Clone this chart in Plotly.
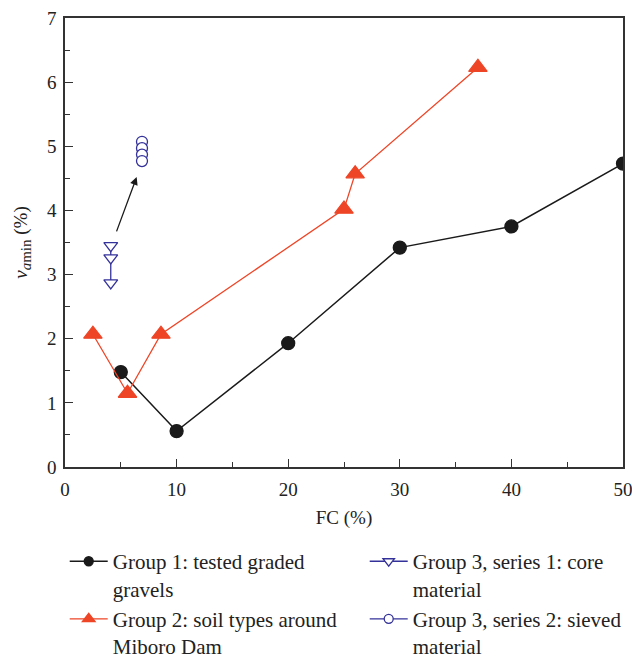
import plotly.graph_objects as go

# Data
g1_x = [5, 10, 20, 30, 40, 50]
g1_y = [1.48, 0.56, 1.93, 3.42, 3.75, 4.73]
g2_x = [2.5, 5.6, 8.6, 25, 26, 37]
g2_y = [2.07, 1.15, 2.07, 4.02, 4.57, 6.23]
g3s1_x = [4.1, 4.1, 4.1]
g3s1_y = [3.45, 3.26, 2.87]
g3s2_x = [6.9, 6.9, 6.9, 6.9]
g3s2_y = [5.07, 4.97, 4.87, 4.77]
arrow_start = (4.57, 3.65)
arrow_end = (6.42, 4.52)

names = [
    "Group 1: tested graded<br>gravels",
    "Group 2: soil types around<br>Miboro Dam",
    "Group 3, series 1: core<br>material",
    "Group 3, series 2: sieved<br>material",
]

FONT = "Liberation Serif"
RED = "#EE4526"
BLUE = "#34329A"
BLACK = "#1a1a1a"

styles = [
    dict(color=BLACK, fill=BLACK, lw=1.5, sym="circle", size=13, lsize=9, rank=1),
    dict(color=RED, fill=RED, lw=1.3, sym="triangle-up", size=16, lsize=11, rank=3),
    dict(color=BLUE, fill="white", lw=1.3, sym="triangle-down", size=12, lsize=10, rank=2),
    dict(color=BLUE, fill="white", lw=1.3, sym="circle", size=11, lsize=9, rank=4),
]
series = [(g1_x, g1_y), (g2_x, g2_y), (g3s1_x, g3s1_y), (g3s2_x, g3s2_y)]

fig = go.Figure()
for (xs, ys), st, nm in zip(series, styles, names):
    fig.add_trace(go.Scatter(x=xs, y=ys, mode="lines+markers", name=nm,
                             showlegend=False,
                             line=dict(color=st["color"], width=st["lw"]),
                             marker=dict(symbol=st["sym"], size=st["size"], color=st["fill"],
                                         line=dict(width=1.3, color=st["color"]))))
for st, nm in zip(styles, names):
    # legend-only entries with smaller symbols (as in the reference legend)
    fig.add_trace(go.Scatter(x=[None], y=[None], mode="lines+markers", name=nm,
                             legendrank=st["rank"],
                             line=dict(color=st["color"], width=1.3),
                             marker=dict(symbol=st["sym"], size=st["lsize"], color=st["fill"],
                                         line=dict(width=1.3, color=st["color"]))))

fig.add_annotation(x=arrow_end[0], y=arrow_end[1], ax=arrow_start[0], ay=arrow_start[1],
                   xref="x", yref="y", axref="x", ayref="y", text="",
                   showarrow=True, arrowhead=2, arrowsize=1.2, arrowwidth=1.3,
                   arrowcolor=BLACK)

axis_common = dict(showgrid=False, zeroline=False, showline=True, linecolor="#333",
                   linewidth=1.5, mirror=True, ticks="inside", ticklen=8,
                   tickwidth=1.3, tickcolor="#333", ticklabeloverflow="allow",
                   tickfont=dict(family=FONT, size=19, color="#222"))

fig.update_xaxes(range=[0, 50], tickvals=[0, 10, 20, 30, 40, 50],
                 minor=dict(ticks="inside", ticklen=5, tickwidth=1.2, tickcolor="#333",
                            dtick=5, tick0=0),
                 ticklabelstandoff=4,
                 title=dict(text="FC (%)", font=dict(family=FONT, size=19, color="#222"),
                            standoff=12),
                 **axis_common)
fig.update_yaxes(range=[0, 7], tickvals=list(range(0, 8)),
                 minor=dict(ticks="inside", ticklen=5, tickwidth=1.2, tickcolor="#333",
                            dtick=0.5, tick0=0),
                 ticklabelstandoff=3,
                 title=dict(text="<i>v</i><sub><span style='font-size:15px'><i>a</i>min</span></sub> (%)",
                            font=dict(family=FONT, size=19, color="#222"), standoff=14),
                 **axis_common)

fig.update_layout(
    width=632, height=658,
    margin=dict(l=65, r=9, t=18, b=191, autoexpand=False),
    paper_bgcolor="white", plot_bgcolor="white",
    showlegend=True,
    legend=dict(orientation="h", x=-0.0005, y=-0.165, xanchor="left", yanchor="top",
                entrywidth=247, font=dict(family=FONT, size=21, color="#222"),
                itemwidth=38, tracegroupgap=0, valign="top"),
    font=dict(family=FONT),
)

fig.write_html("out.html")
